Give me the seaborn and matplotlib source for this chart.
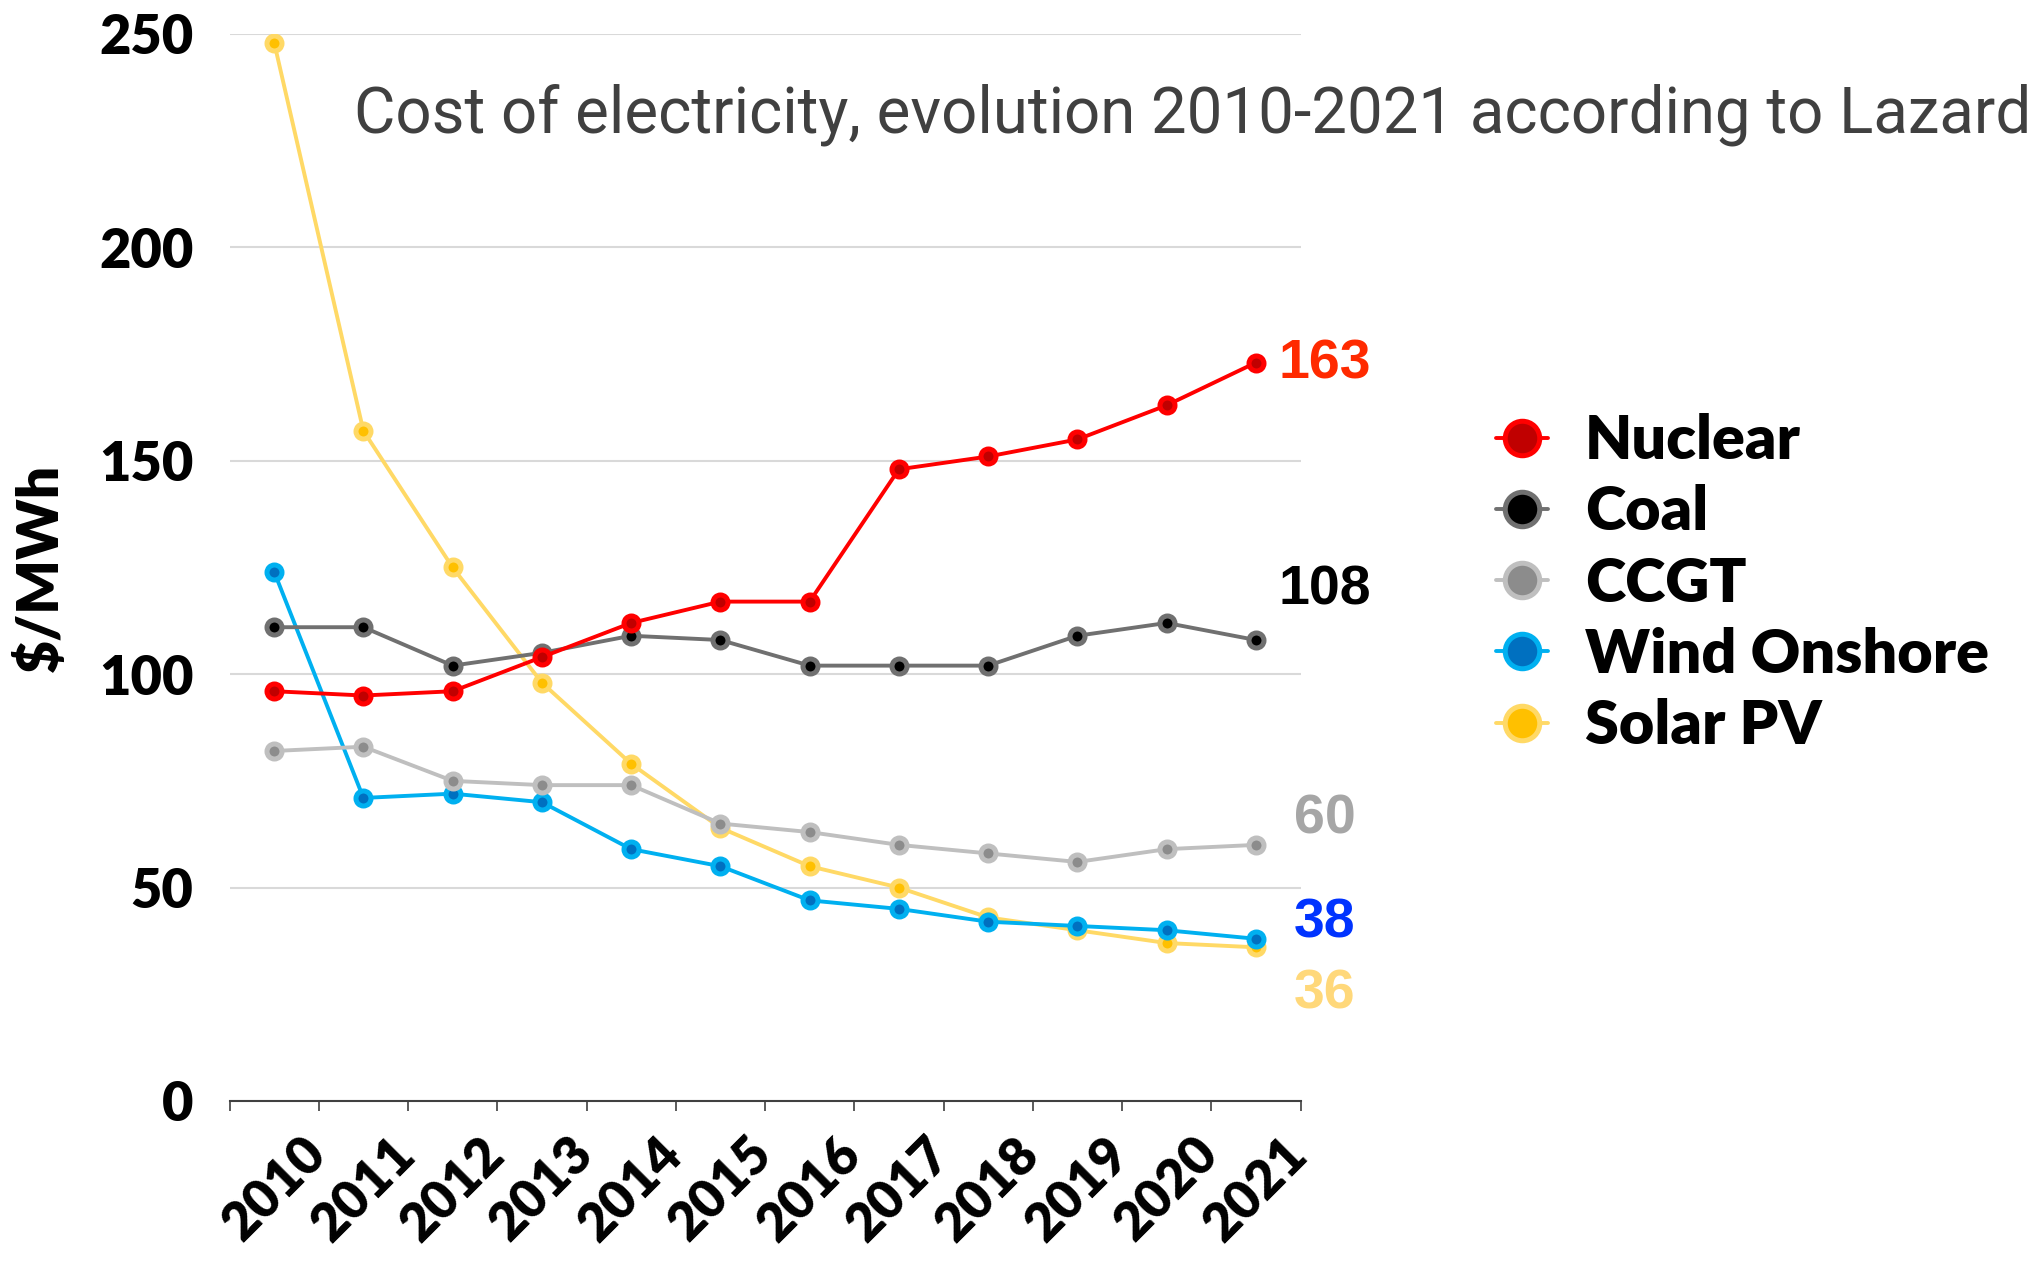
import pandas as pd
import numpy as np
import matplotlib
matplotlib.use("Agg")
import matplotlib.pyplot as plt
from matplotlib import font_manager
import seaborn as sns

# ----------------------------
# DATA ($/MWh)
# ----------------------------
years = ["2010", "2011", "2012", "2013", "2014", "2015",
         "2016", "2017", "2018", "2019", "2020", "2021"]

nuclear = [96, 95, 96, 104, 112, 117, 117, 148, 151, 155, 163, 173]
coal = [111, 111, 102, 105, 109, 108, 102, 102, 102, 109, 112, 108]
ccgt = [82, 83, 75, 74, 74, 65, 63, 60, 58, 56, 59, 60]
wind = [124, 71, 72, 70, 59, 55, 47, 45, 42, 41, 40, 38]
solar = [248, 157, 125, 98, 79, 64, 55, 50, 43, 40, 37, 36]

series_names = ["Nuclear", "Coal", "CCGT", "Wind Onshore", "Solar PV"]
series_values = [nuclear, coal, ccgt, wind, solar]

# end-of-line labels (text shown, y position of the label)
end_labels = ["163", "108", "60", "38", "36"]
end_label_y = [172.5, 119.5, 66, 41.5, 25]

line_colors = ["#ff0000", "#707070", "#bfbfbf", "#00b0f0", "#ffd966"]
face_colors = ["#c00000", "#000000", "#8c8c8c", "#0070c0", "#ffc000"]
label_colors = ["#ff2a00", "#000000", "#a6a6a6", "#0033ff", "#ffd87a"]

df = pd.DataFrame({"Year": years})
for name, vals in zip(series_names, series_values):
    df[name] = vals
long_df = df.melt(id_vars="Year", var_name="Tech", value_name="Cost")

# ----------------------------
# PLOT
# ----------------------------
sns.set_theme(style="white")
plt.rcParams["font.family"] = ["Lato", "DejaVu Sans"]
plt.rcParams["text.color"] = "black"
plt.rcParams["axes.labelcolor"] = "black"
plt.rcParams["xtick.color"] = "black"
plt.rcParams["ytick.color"] = "black"
BOLD = "heavy"

fig = plt.figure(figsize=(20.33, 12.63), dpi=100)
ax = fig.add_axes([0.1129, 0.1283, 0.5268, 0.8448])

# draw back to front: solar at the bottom, nuclear on top
for i in reversed(range(len(series_names))):
    sub = long_df[long_df["Tech"] == series_names[i]]
    sns.lineplot(data=sub, x="Year", y="Cost", ax=ax,
                 color=line_colors[i], linewidth=2.8,
                 marker="o", markersize=10.8,
                 markerfacecolor=face_colors[i],
                 markeredgecolor=line_colors[i], markeredgewidth=3.6,
                 label=series_names[i], zorder=3 + (len(series_names) - i))

ax.set_xlim(-0.5, len(years) - 0.5)
ax.set_ylim(0, 250)
ax.set_yticks(np.arange(0, 251, 50))
ax.yaxis.grid(True, color="#d9d9d9", linewidth=1.5)
ax.xaxis.grid(False)
for side in ["left", "right", "top"]:
    ax.spines[side].set_visible(False)
ax.spines["bottom"].set_color("#404040")
ax.spines["bottom"].set_linewidth(1.5)

ax.set_xticks(range(len(years)))
ax.set_xticklabels(years, rotation=45, ha="center", fontsize=38, fontweight=BOLD)
ax.set_xticks(np.arange(-0.5, len(years), 1), minor=True)
ax.tick_params(axis="x", which="major", length=0, pad=20)
ax.tick_params(axis="x", which="minor", length=7, width=1.2, color="#404040",
               direction="out", bottom=True)
ax.tick_params(axis="y", length=0, pad=26)
for lab in ax.get_yticklabels():
    lab.set_fontsize(39)
    lab.set_fontweight(BOLD)

ax.set_xlabel("")
ax.set_ylabel("$/MWh", fontsize=41, fontweight=BOLD)
ax.yaxis.set_label_coords(-0.152, 0.5)

# end labels
for txt, yv, col in zip(end_labels, end_label_y, label_colors):
    ax.text(11.77, yv, txt, color=col, fontsize=40, fontweight="bold",
            family=["Liberation Sans", "DejaVu Sans"],
            ha="center", va="center", clip_on=False)

# title: narrow face if available, scaled to span the same width as the original
names = {f.name for f in font_manager.fontManager.ttflist}
title_family = "Liberation Sans Narrow" if "Liberation Sans Narrow" in names else "Roboto"
title = fig.text(0.174, 0.895, "Cost of electricity, evolution 2010-2021 according to Lazard",
                 fontsize=40, color="#404040", family=[title_family, "DejaVu Sans"],
                 ha="left", va="baseline")
renderer = fig.canvas.get_renderer()
w = title.get_window_extent(renderer).width
title.set_fontsize(40 * 1676 / w)

# legend in original order
handles, labels = ax.get_legend_handles_labels()
order = [labels.index(n) for n in series_names]
ax.get_legend().remove()
fig.legend([handles[k] for k in order], [labels[k] for k in order],
           loc="upper left", bbox_to_anchor=(0.736, 0.673), frameon=False,
           prop={"family": "Lato", "weight": BOLD, "size": 44},
           markerscale=2.3, handlelength=0.85, handletextpad=0.6,
           labelspacing=0.25, borderpad=0, borderaxespad=0)

fig.savefig("out.png", dpi=100)
